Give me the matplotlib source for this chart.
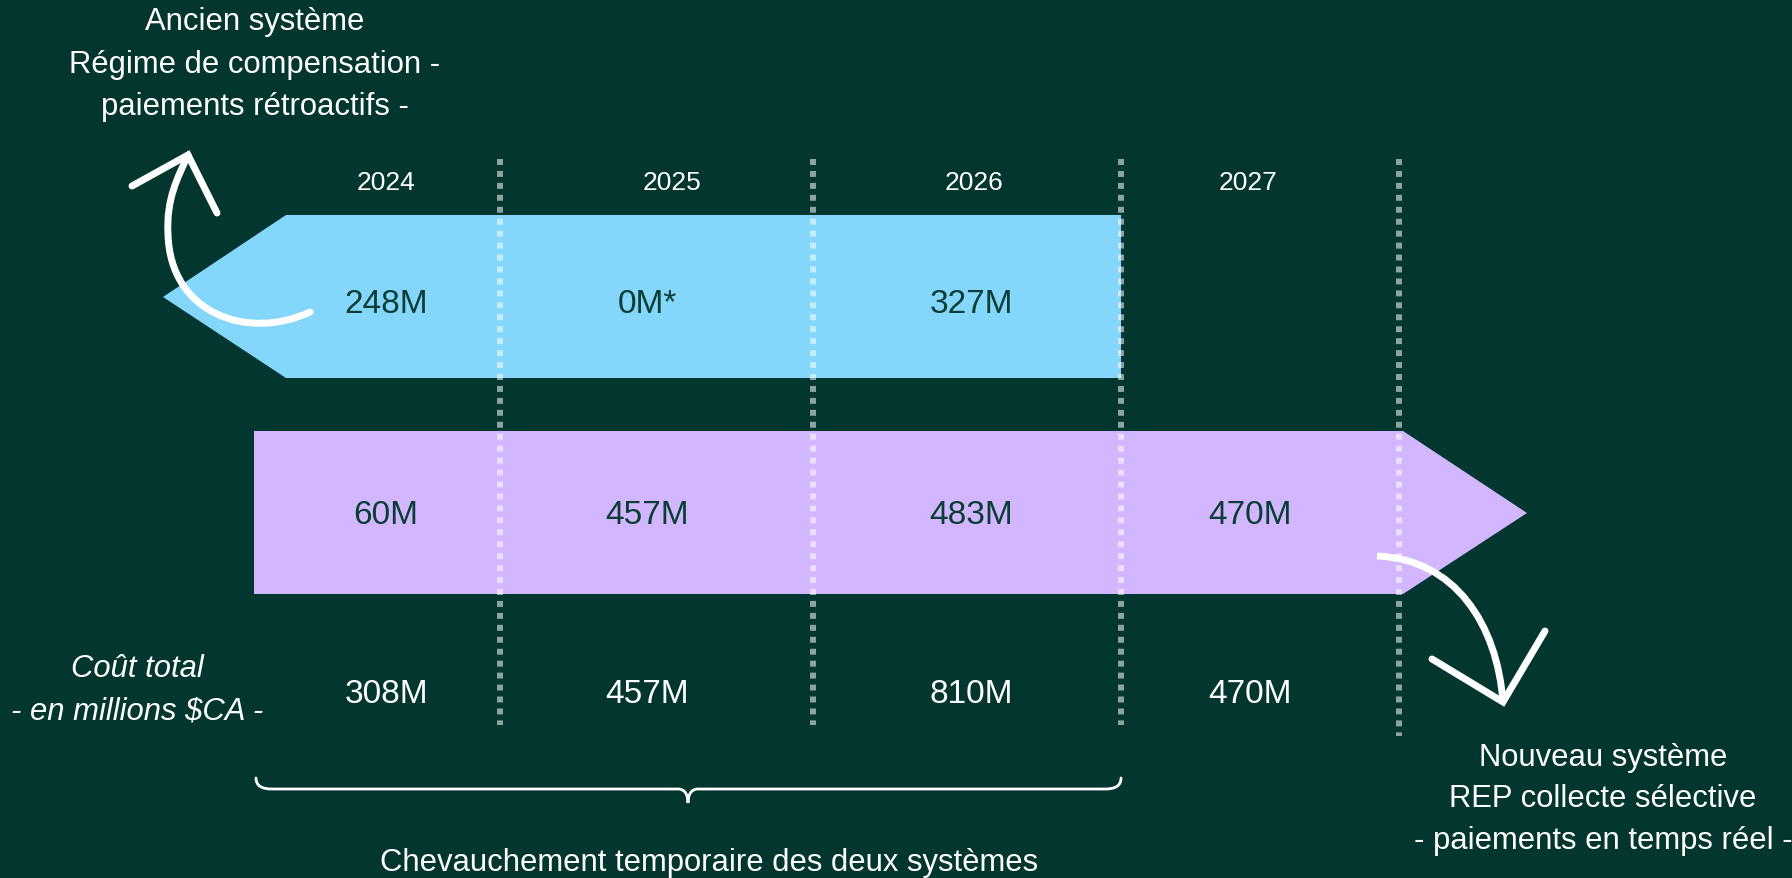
import matplotlib.pyplot as plt
from matplotlib.path import Path
from matplotlib.patches import PathPatch, Polygon

# --- Data ---------------------------------------------------------------
years = ["2024", "2025", "2026", "2027"]
old_system = ["248M", "0M*", "327M"]          # régime de compensation (ends 2026)
new_system = ["60M", "457M", "483M", "470M"]  # REP collecte sélective
total_cost = ["308M", "457M", "810M", "470M"]

old_title = ["Ancien système", "Régime de compensation -", "paiements rétroactifs -"]
new_title = ["Nouveau système", "REP collecte sélective", "- paiements en temps réel -"]
total_title = ["Coût total", "- en millions $CA -"]
overlap_label = "Chevauchement temporaire des deux systèmes"

# --- Style --------------------------------------------------------------
BG = "#03362E"
BLUE = "#84D7FA"
PURPLE = "#D3B7FE"
DARK = "#0A3D35"
W, H = 1792, 879

plt.rcParams["font.family"] = ["Liberation Sans", "DejaVu Sans"]

fig = plt.figure(figsize=(W / 100, H / 100), dpi=100, facecolor=BG)
ax = fig.add_axes([0, 0, 1, 1])
ax.set_xlim(0, W)
ax.set_ylim(H, 0)
ax.axis("off")
ax.set_facecolor(BG)

# layout in pixel space
col_edges = [254, 500, 813, 1121, 1399]
year_x = [386, 672, 974, 1248]
val_x = [386, 647, 971, 1250]
y_year, y_old, y_new, y_total = 183, 305, 516, 695

# --- Bands (arrows) -----------------------------------------------------
old_end = col_edges[len(old_system)]
ax.add_patch(Polygon([(163, 298), (286, 216), (old_end, 216), (old_end, 379), (286, 379)],
                     closed=True, color=BLUE, lw=0, zorder=1))
ax.add_patch(Polygon([(col_edges[0], 432), (1403, 432), (1527, 514), (1403, 595), (col_edges[0], 595)],
                     closed=True, color=PURPLE, lw=0, zorder=1))

# --- Dotted year separators ---------------------------------------------
for i, x in enumerate(col_edges[1:]):
    bottom = 737 if i == len(col_edges) - 2 else 726
    ax.plot([x, x], [160, bottom], color="white", alpha=0.55, lw=4.3,
            linestyle=(0, (1, 1)), dash_capstyle="butt", zorder=2)

# --- Text ---------------------------------------------------------------
for x, yr in zip(year_x, years):
    ax.text(x, y_year, yr, color="white", fontsize=19, ha="center", va="center")
for x, v in zip(val_x, old_system):
    ax.text(x, y_old, v, color=DARK, fontsize=24, ha="center", va="center", zorder=3)
for x, v in zip(val_x, new_system):
    ax.text(x, y_new, v, color=DARK, fontsize=24, ha="center", va="center", zorder=3)
for x, v in zip(val_x, total_cost):
    ax.text(x, y_total, v, color="white", fontsize=24, ha="center", va="center")


def stacked(x, y0, lines, step, **kw):
    for k, line in enumerate(lines):
        ax.text(x, y0 + k * step, line, ha="center", va="center", color="white",
                fontsize=22.3, **kw)


stacked(255, 22, old_title, 42.5)
stacked(1603, 758, new_title, 41.5)
stacked(137, 669, total_title, 43, style="italic")
ax.text(709, 863, overlap_label, color="white", fontsize=22.3, ha="center", va="center")

# --- Hand-drawn arrows --------------------------------------------------
lw_arrow = 5.0
curve_old = Path([(310, 313), (248, 342), (170, 315), (168, 235),
                  (166, 200), (178, 178), (188, 156)],
                 [Path.MOVETO, Path.CURVE4, Path.CURVE4, Path.CURVE4,
                  Path.CURVE4, Path.CURVE4, Path.CURVE4])
ax.add_patch(PathPatch(curve_old, fill=False, ec="white", lw=lw_arrow,
                       capstyle="round", zorder=4))
ax.plot([132, 188, 217], [187, 156, 214], color="white", lw=lw_arrow,
        solid_capstyle="round", solid_joinstyle="miter", zorder=4)

curve_new = Path([(1377, 557), (1455, 560), (1497, 625), (1503, 703)],
                 [Path.MOVETO, Path.CURVE4, Path.CURVE4, Path.CURVE4])
ax.add_patch(PathPatch(curve_new, fill=False, ec="white", lw=lw_arrow,
                       capstyle="butt", zorder=4))
ax.plot([1432, 1503, 1545], [660, 703, 632], color="white", lw=lw_arrow,
        solid_capstyle="round", solid_joinstyle="miter", zorder=4)

# --- Overlap brace ------------------------------------------------------
x0, x1 = col_edges[0] + 2, col_edges[len(old_system)]
xm = 688
brace = Path([(x0, 779), (x0, 787), (x0 + 6, 790), (x0 + 16, 790),
              (xm - 10, 790), (xm - 3, 790), (xm, 796), (xm, 804),
              (xm, 796), (xm + 3, 790), (xm + 10, 790),
              (x1 - 16, 790), (x1 - 6, 790), (x1, 787), (x1, 779)],
             [Path.MOVETO, Path.CURVE4, Path.CURVE4, Path.CURVE4,
              Path.LINETO, Path.CURVE4, Path.CURVE4, Path.CURVE4,
              Path.CURVE4, Path.CURVE4, Path.CURVE4,
              Path.LINETO, Path.CURVE4, Path.CURVE4, Path.CURVE4])
ax.add_patch(PathPatch(brace, fill=False, ec="white", lw=2.0, capstyle="round"))

fig.savefig("out.png", dpi=100, facecolor=BG)
